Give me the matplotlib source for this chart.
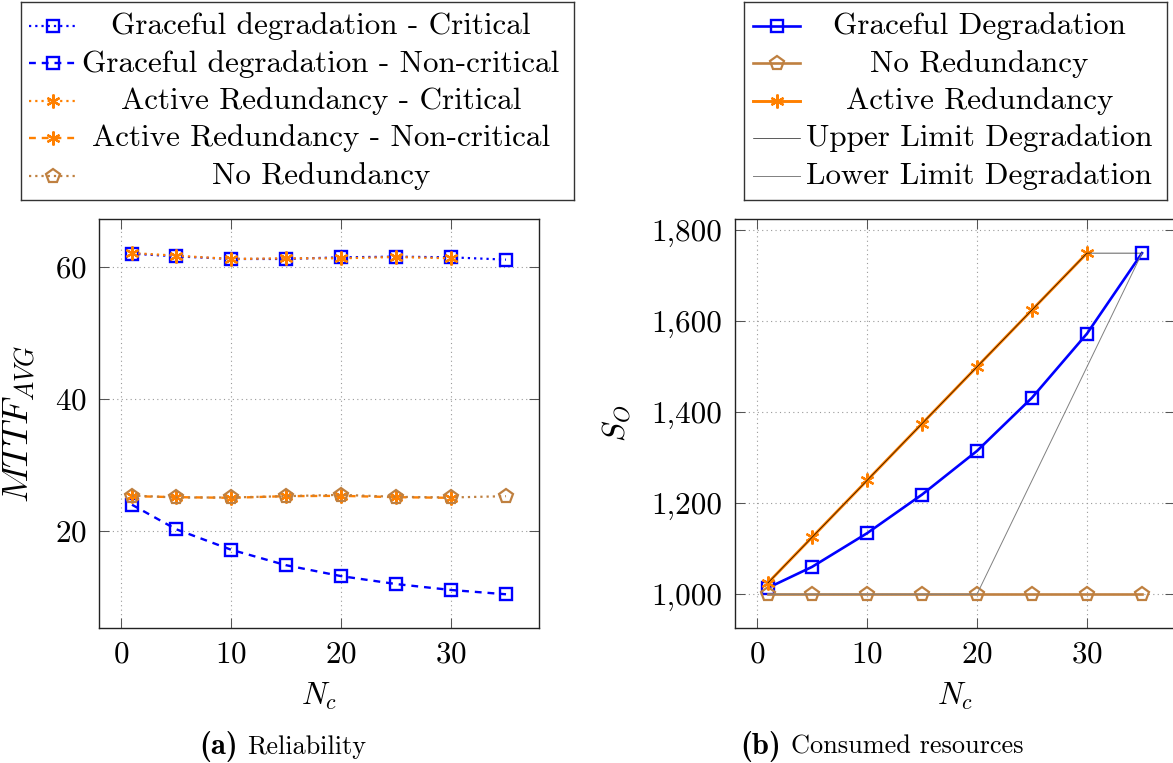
import matplotlib
matplotlib.use("Agg")
import matplotlib.pyplot as plt
from matplotlib.ticker import FuncFormatter, FixedLocator

# ---------------- data ----------------
n_c = [1, 5, 10, 15, 20, 25, 30, 35]
n_c_active = [1, 5, 10, 15, 20, 25, 30]

# (a) reliability: MTTF_AVG
gd_critical = [62.0, 61.6, 61.2, 61.2, 61.45, 61.55, 61.45, 61.1]
gd_noncritical = [24.0, 20.3, 17.2, 14.85, 13.2, 12.0, 11.1, 10.45]
ar_critical = [62.1, 61.7, 61.2, 61.3, 61.3, 61.5, 61.3]
ar_noncritical = [25.3, 25.15, 25.05, 25.3, 25.35, 25.15, 25.05]
no_redundancy_mttf = [25.4, 25.1, 25.1, 25.3, 25.5, 25.2, 25.1, 25.3]

# (b) consumed resources: S_O
gd_resources = [1014, 1060, 1134, 1219, 1315, 1432, 1573, 1750]
nr_resources = [1000, 1000, 1000, 1000, 1000, 1000, 1000, 1000]
ar_resources = [1025, 1125, 1250, 1375, 1500, 1625, 1750]
upper_limit = [1025, 1125, 1250, 1375, 1500, 1625, 1750, 1750]
lower_limit = [1000, 1000, 1000, 1000, 1000, 1250, 1500, 1750]

x_ticks = [0, 10, 20, 30]
y_ticks_a = [20, 40, 60]
y_ticks_b = [1000, 1200, 1400, 1600, 1800]

legend_a = ["Graceful degradation - Critical",
            "Graceful degradation - Non-critical",
            "Active Redundancy - Critical",
            "Active Redundancy - Non-critical",
            "No Redundancy"]
legend_b = ["Graceful Degradation", "No Redundancy", "Active Redundancy",
            "Upper Limit Degradation", "Lower Limit Degradation"]

# ---------------- style ----------------
plt.rcParams["font.family"] = ["cmr10", "DejaVu Serif"]
plt.rcParams["mathtext.fontset"] = "cm"
plt.rcParams["axes.unicode_minus"] = False
plt.rcParams["axes.formatter.use_mathtext"] = True

FS = 22.4
CAP_FS = 18.9
TAG_FS = 22.0
BLUE = "#0000ff"
ORANGE = "#ff8000"
BROWN = "#bf8040"
GRAY = "#808080"

DOT = (0, (1, 1.8))
DASH = (0, (2.9, 2.5))

W, H = 1173, 763
fig = plt.figure(figsize=(W / 100, H / 100), dpi=100)


def px_axes(x0, y0, x1, y1):
    return fig.add_axes([x0 / W, 1 - y1 / H, (x1 - x0) / W, (y1 - y0) / H])


sq = dict(marker="s", ms=8.6, mew=1.7, mfc="none")
pent = dict(marker="p", ms=10.0, mew=1.6, mfc="none")
ast = dict(marker=(6, 2, 0), ms=10.0, mew=1.6)

styles_a = [
    dict(color=BLUE, lw=1.6, ls=DOT, mec=BLUE, **sq),
    dict(color=BLUE, lw=1.7, ls=DASH, mec=BLUE, **sq),
    dict(color=ORANGE, lw=1.6, ls=DOT, mec=ORANGE, **ast),
    dict(color=ORANGE, lw=1.7, ls=DASH, mec=ORANGE, **ast),
    dict(color=BROWN, lw=1.6, ls=DOT, mec=BROWN, **pent),
]
styles_b = [
    dict(color=BLUE, lw=1.9, ls="-", mec=BLUE, **sq),
    dict(color=BROWN, lw=1.9, ls="-", mec=BROWN, **pent),
    dict(color=ORANGE, lw=2.1, ls="-", mec=ORANGE, **ast),
    dict(color="black", lw=0.45, ls="-"),
    dict(color=GRAY, lw=0.7, ls="-"),
]


def style_axes(ax, xt, yt):
    ax.set_xlim(-2, 38)
    ax.xaxis.set_major_locator(FixedLocator(xt))
    ax.yaxis.set_major_locator(FixedLocator(yt))
    ax.tick_params(direction="in", length=7.2, width=0.75, color="#555555",
                   top=True, right=True, labelsize=FS, pad=9)
    ax.grid(True, ls=(0, (1, 3)), color="#9a9a9a", lw=0.8)
    ax.set_axisbelow(True)
    for s in ax.spines.values():
        s.set_linewidth(1.0)
        s.set_color("#222222")


# ---------------- (a) reliability ----------------
ax1 = px_axes(99, 219, 539, 628.3)
series_a = [(n_c, gd_critical), (n_c, gd_noncritical), (n_c_active, ar_critical),
            (n_c_active, ar_noncritical), (n_c, no_redundancy_mttf)]
for (xs, ys), st in zip(series_a, styles_a):
    ax1.plot(xs, ys, **st)
style_axes(ax1, x_ticks, y_ticks_a)
ax1.set_ylim(5.3, 67.25)
ax1.set_xlabel(r"$N_c$", fontsize=FS)
ax1.set_ylabel(r"$MTTF_{AVG}$", fontsize=26.5)
ax1.xaxis.set_label_coords(0.5, -0.127)
ax1.yaxis.set_label_coords(-0.139, 0.5)

# ---------------- (b) consumed resources ----------------
ax2 = px_axes(735, 219, 1175, 628.3)
series_b = [(n_c, gd_resources), (n_c, nr_resources), (n_c_active, ar_resources),
            (n_c, upper_limit), (n_c, lower_limit)]
for (xs, ys), st in zip(series_b, styles_b):
    ax2.plot(xs, ys, **st)
style_axes(ax2, x_ticks, y_ticks_b)
ax2.set_ylim(925, 1825)
ax2.yaxis.set_major_formatter(FuncFormatter(lambda v, p: f"{v:,.0f}"))
ax2.set_xlabel(r"$N_c$", fontsize=FS)
ax2.set_ylabel(r"$S_O$", fontsize=FS)
ax2.xaxis.set_label_coords(0.5, -0.127)
ax2.yaxis.set_label_coords(-0.232, 0.5)

# ---------------- legends (entries centred in their cells) ----------------
ROWS = [25.5, 63, 100.5, 138, 175.5]


def draw_legend(box, hx, text_cx, labels, styles):
    x0, y0, x1, y1 = box
    lax = px_axes(x0, y0, x1, y1)
    lax.set_xlim(x0, x1)
    lax.set_ylim(y1, y0)
    lax.set_xticks([])
    lax.set_yticks([])
    for s in lax.spines.values():
        s.set_linewidth(1.0)
        s.set_color("#333333")
    h0, h1 = hx
    hm = (h0 + h1) / 2
    for ry, lab, st in zip(ROWS, labels, styles):
        lax.plot([h0, hm, h1], [ry, ry, ry], markevery=[1], clip_on=False, **st)
        lax.text(text_cx, ry + 8.5, lab, ha="center", va="baseline", fontsize=FS)


draw_legend((20.5, 2, 574, 200), (29, 76), 321, legend_a, styles_a)
draw_legend((744, 2, 1167, 200), (753, 800), 979.5, legend_b, styles_b)

# ---------------- sub-captions ----------------
fig.text(199 / W, 1 - 754 / H, "(a)", ha="left", va="baseline",
         fontsize=TAG_FS, family="cmb10")
fig.text(247 / W, 1 - 754 / H, "Reliability", ha="left", va="baseline",
         fontsize=CAP_FS)
fig.text(740 / W, 1 - 754 / H, "(b)", ha="left", va="baseline",
         fontsize=TAG_FS, family="cmb10")
fig.text(791 / W, 1 - 754 / H, "Consumed resources", ha="left", va="baseline",
         fontsize=CAP_FS)

fig.savefig("out.png", dpi=100, facecolor="white")
